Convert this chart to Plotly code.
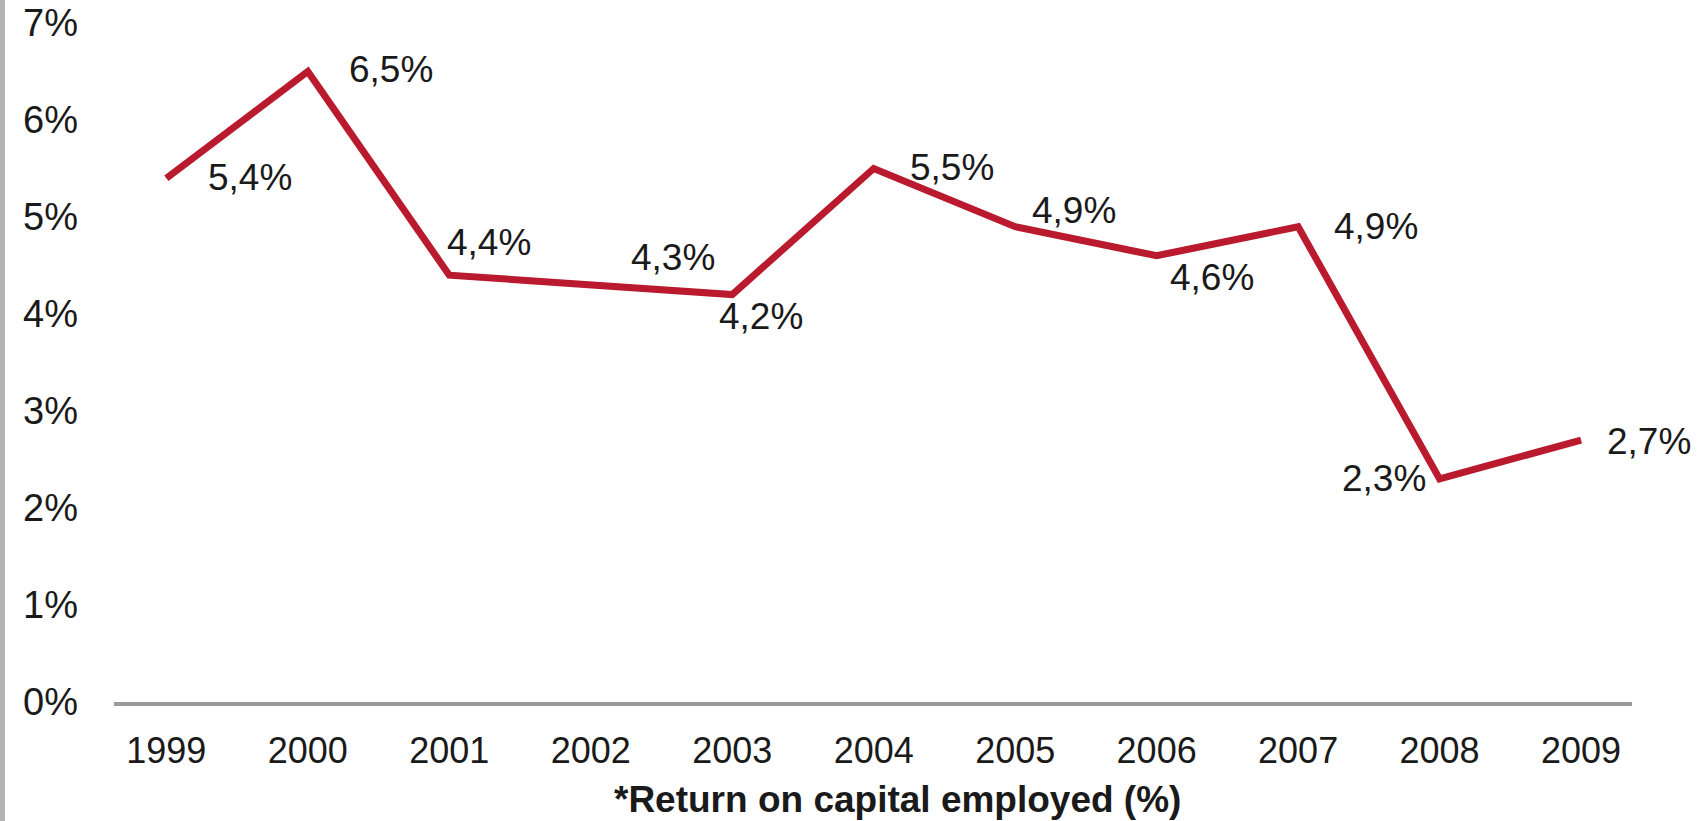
import plotly.graph_objects as go

years = ["1999", "2000", "2001", "2002", "2003", "2004", "2005", "2006", "2007", "2008", "2009"]
roce = [5.4, 6.5, 4.4, 4.3, 4.2, 5.5, 4.9, 4.6, 4.9, 2.3, 2.7]
labels = ["5,4%", "6,5%", "4,4%", "4,3%", "4,2%", "5,5%", "4,9%", "4,6%", "4,9%", "2,3%", "2,7%"]
y_ticks = [0, 1, 2, 3, 4, 5, 6, 7]
y_tick_text = ["0%", "1%", "2%", "3%", "4%", "5%", "6%", "7%"]
title_text = "*Return on capital employed (%)"

# label offsets in pixels (dx right, dy up)
label_dx = [84, 83, 40, 82, 29, 78, 59, 55, 78, -56, 68]
label_dy = [1, 2, 33, 27, -22, 1, 16, -22, 0, 0, -1]

FONT = "Liberation Sans, Arial, sans-serif"
LINE = "#BA1A2E"

fig = go.Figure()
fig.add_trace(go.Scatter(
    x=years, y=roce, mode="lines",
    line=dict(color=LINE, width=7),
    hoverinfo="skip", showlegend=False,
))

for i, (yv, t, dx, dy) in enumerate(zip(roce, labels, label_dx, label_dy)):
    fig.add_annotation(
        x=i, y=yv, xref="x", yref="y", text=t, showarrow=False,
        xanchor="center", yanchor="middle", xshift=dx, yshift=dy,
        font=dict(family=FONT, size=37, color="#1a1a1a"),
    )

fig.add_annotation(
    x=0.516, y=-0.144, xref="paper", yref="paper", text="<b>" + title_text + "</b>",
    showarrow=False, xanchor="center", yanchor="middle",
    font=dict(family=FONT, size=37, color="#1a1a1a"),
)

# thin gray bar on the left edge of the page
fig.add_shape(
    type="rect", xref="paper", yref="paper",
    xsizemode="pixel", ysizemode="pixel", xanchor=0, yanchor=0,
    x0=-114, x1=-109, y0=-130, y1=720,
    fillcolor="#b4b4b4", line=dict(width=0), layer="below",
)

fig.update_layout(
    width=1706, height=821,
    margin=dict(l=114, r=74, t=23, b=119, autoexpand=False),
    paper_bgcolor="white", plot_bgcolor="white",
    font=dict(family=FONT, size=36, color="#1a1a1a"),
    xaxis=dict(
        type="category", range=[-0.37, 10.36], automargin=False,
        showgrid=False, zeroline=False,
        showline=True, linecolor="#999999", linewidth=4,
        ticks="", ticklabelstandoff=14,
        tickfont=dict(family=FONT, size=36, color="#1a1a1a"),
    ),
    yaxis=dict(
        range=[0, 7], tickvals=y_ticks, ticktext=y_tick_text, automargin=False,
        showgrid=False, zeroline=False, showline=False,
        ticks="", ticklabelstandoff=35, ticklabeloverflow="allow",
        tickfont=dict(family=FONT, size=38, color="#1a1a1a"),
    ),
)

fig.write_html("out.html")
